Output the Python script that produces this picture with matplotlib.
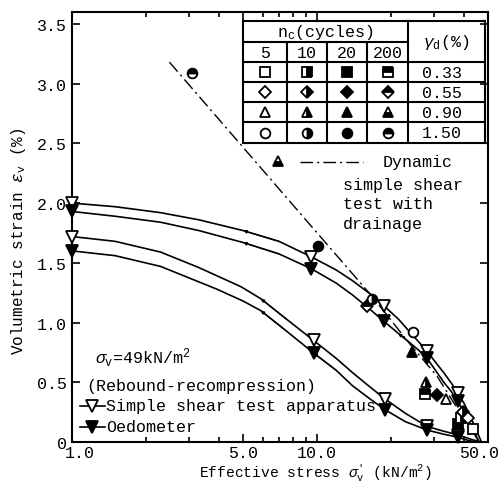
import matplotlib
matplotlib.use('Agg')
import matplotlib.pyplot as plt
from matplotlib.ticker import LogLocator, NullFormatter
from matplotlib.transforms import ScaledTranslation

plt.rcParams['font.family'] = ['Liberation Mono', 'DejaVu Sans Mono']
plt.rcParams['mathtext.fontset'] = 'custom'
plt.rcParams['mathtext.rm'] = 'Liberation Mono'
plt.rcParams['mathtext.it'] = 'Liberation Mono:italic'
plt.rcParams['mathtext.bf'] = 'Liberation Mono:bold'

# ---------------- data ----------------
# rebound-recompression curves (upper pair)
ss_up_x = [1.0, 1.5, 2.3, 3.3, 5.0, 7.0, 9.5, 12.0, 14.0, 16.5, 18.8, 21.5, 24.0, 26.0,
           28.2, 31.0, 33.0, 35.5, 37.7, 40.0, 42.0, 44.5, 47.0]
ss_up_y = [2.00, 1.97, 1.92, 1.86, 1.77, 1.68, 1.55, 1.44, 1.35, 1.24, 1.14, 1.03, 0.92, 0.84,
           0.76, 0.65, 0.58, 0.49, 0.41, 0.32, 0.23, 0.115, 0.0]
oed_up_x = [1.0, 1.5, 2.3, 3.3, 5.0, 7.0, 9.5, 12.0, 14.0, 16.5, 18.8, 21.5, 24.0, 26.0,
            28.2, 31.0, 33.0, 35.5, 37.7, 40.0, 42.0, 44.0, 46.0]
oed_up_y = [1.93, 1.89, 1.84, 1.77, 1.67, 1.575, 1.45, 1.33, 1.23, 1.11, 1.01, 0.91, 0.83, 0.77,
            0.70, 0.58, 0.50, 0.42, 0.34, 0.24, 0.16, 0.08, 0.0]
# lower pair
ss_lo_x = [1.0, 1.5, 2.3, 3.3, 4.9, 5.9, 7.5, 9.7, 12.0, 14.0, 16.5, 19.0, 23.0, 28.2,
           33.0, 37.7, 43.0, 47.0]
ss_lo_y = [1.72, 1.68, 1.59, 1.46, 1.30, 1.20, 1.03, 0.85, 0.70, 0.58, 0.46, 0.36, 0.24, 0.13,
           0.09, 0.06, 0.02, 0.0]
oed_lo_x = [1.0, 1.5, 2.3, 3.9, 5.0, 5.9, 7.5, 9.7, 12.0, 14.0, 16.5, 19.0, 23.0, 28.2,
            33.0, 37.7, 42.0, 46.0]
oed_lo_y = [1.60, 1.56, 1.47, 1.28, 1.18, 1.10, 0.93, 0.745, 0.60, 0.47, 0.36, 0.27, 0.17, 0.10,
            0.065, 0.04, 0.01, 0.0]

# measured points on the curves
ss_up_px = [1.0, 9.5, 18.8, 28.2, 37.7]
ss_up_py = [2.00, 1.55, 1.14, 0.76, 0.41]
oed_up_px = [1.0, 9.5, 18.8, 28.2, 37.7]
oed_up_py = [1.93, 1.45, 1.01, 0.70, 0.34]
ss_lo_px = [1.0, 9.7, 19.0, 28.2, 37.7]
ss_lo_py = [1.72, 0.85, 0.36, 0.13, 0.06]
oed_lo_px = [1.0, 9.7, 19.0, 28.2, 37.7]
oed_lo_py = [1.60, 0.745, 0.27, 0.10, 0.04]

# dynamic simple shear test with drainage (dash-dot)
dyn_x = [2.5, 8.5, 16.8, 24.0, 31.0, 37.5, 42.0, 46.0]
dyn_y = [3.18, 1.92, 1.22, 0.82, 0.55, 0.28, 0.13, 0.0]

# dynamic test points: gamma_d = 0.33 (square), 0.55 (diamond), 0.90 (triangle), 1.50 (circle)
sq_x = [27.7, 37.7, 38.8, 43.5]
sq_y = [0.40, 0.15, 0.20, 0.11]
sq_n = [200, 20, 10, 5]
dm_x = [16.0, 31.0, 39.6, 41.5]
dm_y = [1.14, 0.39, 0.25, 0.20]
dm_n = [200, 20, 10, 5]
tr_x = [24.5, 28.0, 33.7]
tr_y = [0.75, 0.50, 0.36]
tr_n = [20, 10, 5]
ci_x = [3.09, 10.1, 16.8, 24.7]
ci_y = [3.09, 1.64, 1.20, 0.92]
ci_n = [200, 20, 10, 5]

cycles = [5, 10, 20, 200]
gammas = ['0.33', '0.55', '0.90', '1.50']
shapes = ['s', 'D', '^', 'o']
shape_ms = {'s': 7, 'D': 6.5, '^': 7.5, 'o': 7}
top_half = {'s': 'top', 'D': 'top', '^': 'bottom', 'o': 'top'}

x_ticks = [1, 5, 10, 50]
x_ticklabels = ['1.0', '5.0', '10.0', '50.0']
y_ticks = [0, 0.5, 1.0, 1.5, 2.0, 2.5, 3.0, 3.5]
y_ticklabels = ['0', '0.5', '1.0', '1.5', '2.0', '2.5', '3.0', '3.5']


def mstyle(shape, n):
    d = dict(marker=shape, markersize=shape_ms[shape], markeredgecolor='k',
             markeredgewidth=1.3, linestyle='none')
    if n == 5:
        d.update(markerfacecolor='white')
    elif n == 20:
        d.update(markerfacecolor='k')
    elif n == 10:
        d.update(fillstyle='right', markerfacecolor='k', markerfacecoloralt='white')
    else:
        d.update(fillstyle=top_half[shape], markerfacecolor='k', markerfacecoloralt='white')
    return d


W, H = 501, 485
fig = plt.figure(figsize=(W / 100, H / 100), dpi=100)
L, R, T, B = 72, 488, 13, 443
ax = fig.add_axes([L / W, 1 - B / H, (R - L) / W, (B - T) / H])


def ax_pt(px, py):
    return ((px - L) / (R - L), (B - py) / (B - T))


ax.set_xscale('log')
ax.set_xlim(1, 50)
ax.set_ylim(0, 3.6)
ax.set_xticks(x_ticks)
ax.set_xticklabels(x_ticklabels)
ax.xaxis.set_minor_locator(LogLocator(base=10, subs=range(2, 10)))
ax.xaxis.set_minor_formatter(NullFormatter())
ax.set_yticks(y_ticks)
ax.set_yticklabels(y_ticklabels)
ax.tick_params(which='both', direction='in', top=True, right=True, labelsize=12, width=1.2)
ax.tick_params(which='major', length=6)
ax.tick_params(axis='x', which='major', pad=2)
ax.tick_params(which='minor', length=3.5)
for s in ax.spines.values():
    s.set_linewidth(1.5)

# nudge the end x tick labels inward as in the reference
xlabs = ax.get_xticklabels()
xlabs[0].set_transform(xlabs[0].get_transform() + ScaledTranslation(8 / 100, 0, fig.dpi_scale_trans))
xlabs[-1].set_transform(xlabs[-1].get_transform() + ScaledTranslation(-9 / 100, 0, fig.dpi_scale_trans))

lw = 1.2
ax.plot(ss_up_x, ss_up_y, color='k', lw=lw, zorder=2)
ax.plot(oed_up_x, oed_up_y, color='k', lw=lw, zorder=2)
ax.plot(ss_lo_x, ss_lo_y, color='k', lw=lw, zorder=2)
ax.plot(oed_lo_x, oed_lo_y, color='k', lw=lw, zorder=2)
ax.plot(dyn_x, dyn_y, color='k', lw=1.0, linestyle=(0, (9, 3, 1.5, 3)), zorder=2)

# small arrowheads along curves (pointing toward lower stress)
for cx, cy, xa_, xb_ in [(ss_up_x, ss_up_y, 7.0, 5.0), (oed_up_x, oed_up_y, 7.0, 5.0),
                         (ss_lo_x, ss_lo_y, 7.5, 5.9), (oed_lo_x, oed_lo_y, 7.5, 5.9),
                         (oed_up_x, oed_up_y, 24.0, 21.5), (oed_lo_x, oed_lo_y, 12.0, 9.7)]:
    i0, i1 = cx.index(xa_), cx.index(xb_)
    ax.annotate('', xy=(cx[i1], cy[i1]), xytext=(cx[i0], cy[i0]),
                arrowprops=dict(arrowstyle='-|>', color='k', lw=0.8,
                                mutation_scale=5, shrinkA=0, shrinkB=0), zorder=2)

tri_ms = 8
ax.plot(ss_up_px, ss_up_py, marker='v', ms=tri_ms, mfc='white', mec='k', mew=1.3, ls='none', zorder=4, clip_on=False)
ax.plot(oed_up_px, oed_up_py, marker='v', ms=tri_ms, mfc='k', mec='k', mew=1.3, ls='none', zorder=4, clip_on=False)
ax.plot(ss_lo_px, ss_lo_py, marker='v', ms=tri_ms, mfc='white', mec='k', mew=1.3, ls='none', zorder=4, clip_on=False)
ax.plot(oed_lo_px, oed_lo_py, marker='v', ms=tri_ms, mfc='k', mec='k', mew=1.3, ls='none', zorder=4, clip_on=False)

for shp, xs, ys, ns in [('s', sq_x, sq_y, sq_n), ('D', dm_x, dm_y, dm_n),
                        ('^', tr_x, tr_y, tr_n), ('o', ci_x, ci_y, ci_n)]:
    for xv, yv, nv in zip(xs, ys, ns):
        ax.plot([xv], [yv], zorder=5, **mstyle(shp, nv))

ax.set_ylabel(r'Volumetric strain $\varepsilon_\mathrm{v}$ (%)', fontsize=11.5)
ax.yaxis.set_label_coords(-0.105, 0.47)
ax.set_xlabel(r"Effective stress $\sigma_\mathrm{v}^{\prime}$ (kN/m$^2$)", fontsize=10.5)
ax.xaxis.set_label_coords(0.585, -0.044)

# in-plot annotations
fs = 12
ax.text(*ax_pt(95, 358), r'$\sigma_\mathrm{v}$=49kN/m$^2$', transform=ax.transAxes,
        fontsize=fs, va='center', ha='left')
ax.text(*ax_pt(86, 387), '(Rebound-recompression)', transform=ax.transAxes,
        fontsize=fs, va='center', ha='left')
for py, face, label in [(407, 'white', 'Simple shear test apparatus'), (428, 'k', 'Oedometer')]:
    xa, ya = ax_pt(80, py)
    xb, _ = ax_pt(105, py)
    xm, _ = ax_pt(92, py)
    ax.plot([xa, xb], [ya, ya], color='k', lw=1.2, transform=ax.transAxes, clip_on=False)
    ax.plot([xm], [ya], marker='v', ms=tri_ms, mfc=face, mec='k', mew=1.3,
            transform=ax.transAxes, clip_on=False)
    ax.text(*ax_pt(106, py), label, transform=ax.transAxes, fontsize=fs, va='center', ha='left')

# dynamic test legend
xt, yt = ax_pt(278, 162)
ax.plot([xt], [yt], transform=ax.transAxes, **mstyle('^', 200))
xa, ya = ax_pt(300, 163)
xb, _ = ax_pt(363, 163)
ax.plot([xa, xb], [ya, ya], color='k', lw=1.0, linestyle=(0, (9, 3, 1.5, 3)), transform=ax.transAxes)
ax.text(*ax_pt(383, 163), 'Dynamic', transform=ax.transAxes, fontsize=fs, va='center', ha='left')
for py, s in [(186, 'simple shear'), (205, 'test with'), (225, 'drainage')]:
    ax.text(*ax_pt(343, py), s, transform=ax.transAxes, fontsize=fs, va='center', ha='left')

# table
tx0, tx1, ty0, ty1 = 243, 485, 22, 144
tab = fig.add_axes([tx0 / W, 1 - ty1 / H, (tx1 - tx0) / W, (ty1 - ty0) / H])
tab.set_xlim(tx0, tx1)
tab.set_ylim(ty1, ty0)
tab.axis('off')
col_edges = [243, 287, 327, 367, 408, 485]
row_edges = [22, 43, 63, 83, 103, 123, 144]
tlw = 1.5
for yv in [22, 63, 83, 103, 123, 144]:
    tab.plot([tx0, tx1], [yv, yv], color='k', lw=tlw, clip_on=False)
tab.plot([tx0, 408], [43, 43], color='k', lw=tlw, clip_on=False)
for xv in [243, 408, 485]:
    tab.plot([xv, xv], [ty0, ty1], color='k', lw=tlw, clip_on=False)
for xv in [287, 327, 367]:
    tab.plot([xv, xv], [43, ty1], color='k', lw=tlw, clip_on=False)
tab.text(325, 32.5, r'n$_\mathrm{c}$(cycles)', fontsize=fs, ha='center', va='center')
tab.text(446, 42, r'$\gamma_\mathrm{d}$(%)', fontsize=fs, ha='center', va='center')
for j, n in enumerate(cycles):
    cx = (col_edges[j] + col_edges[j + 1]) / 2
    tab.text(cx, 53, str(n), fontsize=fs, ha='center', va='center')
for i, (g, shp) in enumerate(zip(gammas, shapes)):
    cy = (row_edges[i + 2] + row_edges[i + 3]) / 2
    tab.text(442, cy, g, fontsize=fs, ha='center', va='center')
    for j, n in enumerate(cycles):
        cx = (col_edges[j] + col_edges[j + 1]) / 2
        tab.plot([cx], [cy], clip_on=False, **mstyle(shp, n))

fig.savefig('out.png', dpi=100)
